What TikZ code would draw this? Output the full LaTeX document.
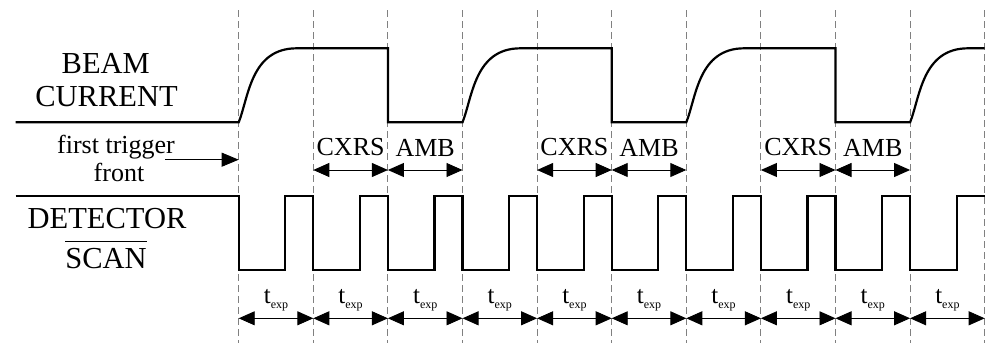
\documentclass[tikz,border=0pt]{standalone}
\usepackage{fontspec}
\setmainfont{Liberation Serif}
\usetikzlibrary{arrows.meta,calc}
\begin{document}
\begin{tikzpicture}[x=1pt,y=-1pt,
  wave/.style={line width=2.2pt, line join=miter},
  guide/.style={gray, line width=1pt, dash pattern=on 7pt off 4pt},
  dimline/.style={line width=0.9pt, {Triangle[length=16pt,width=14pt]}-{Triangle[length=16pt,width=14pt]}},
  oneway/.style={line width=0.9pt, -{Triangle[length=17pt,width=14pt]}},
  big/.style={font=\fontsize{30.5}{33}\selectfont, inner sep=0pt},
  small/.style={font=\fontsize{26}{28}\selectfont, inner sep=0pt},
  texp/.style={font=\fontsize{25}{27}\selectfont, inner sep=0pt, anchor=base},
]
\useasboundingbox (0,0) rectangle (990,343);
% vertical guides
\foreach \k in {0,...,10} {
  \coordinate (gt\k) at ({238.7+\k*74.6},10);
  \coordinate (gb\k) at ({238.7+\k*74.6},343);
  \draw[guide] (gt\k) -- (gb\k);
  \coordinate (c\k) at ({238.7+\k*74.6},170);
  \coordinate (t\k) at ({238.7+\k*74.6},318.3);
}
% beam current waveform
\draw[wave] (15.7,122.3) -- (238.7,122.3)
  .. controls (248.7,97.3) and (250.7,48.3) .. (296.7,48.3) -- (387.9,48.3) -- (387.9,122.3) -- (462.5,122.3)
  .. controls (472.5,97.3) and (474.5,48.3) .. (520.5,48.3) -- (611.7,48.3) -- (611.7,122.3) -- (686.3,122.3)
  .. controls (696.3,97.3) and (698.3,48.3) .. (744.3,48.3) -- (835.5,48.3) -- (835.5,122.3) -- (910.1,122.3)
  .. controls (920.1,97.3) and (922.1,48.3) .. (968.1,48.3) -- (984.7,48.3);
% detector scan waveform
\draw[wave] (15.7,196) foreach \k in {0,...,9} { -- ({238.7+\k*74.6},196) -- ++(0,74) -- ++(46.5,0) -- ++(0,-74) } -- (984.7,196);
% labels
\node[big] (beam) at (105.8,63.5) {BEAM};
\node[big] (current) at (106.5,97) {CURRENT};
\node[big] (detector) at (107,219) {DETECTOR};
\node[big] (scan) at (106,259) {SCAN};
\draw[line width=1.6pt] ([yshift=7pt]scan.north west) -- ([yshift=7pt]scan.north east);
\node[small, anchor=base] (first) at (116,153) {first trigger};
\node[small, anchor=base] (front) at (119,181.7) {front};
\coordinate (fa) at (165,159.7);
\coordinate (fb) at (238.7,159.7);
\draw[oneway] (fa) -- (fb);
% CXRS / AMB intervals
\foreach \a/\b/\c in {1/2/3, 4/5/6, 7/8/9} {
  \draw[dimline] (c\a) -- (c\b);
  \draw[dimline] (c\b) -- (c\c);
  \node[small] (cx\a) at ($ (c\a)!0.5!(c\b) + (0,-22.5) $) {CXRS};
  \node[small] (am\b) at ($ (c\b)!0.5!(c\c) + (0,-22.5) $) {AMB};
}
% t_exp intervals
\foreach \k [evaluate=\k as \n using int(\k+1)] in {0,...,9} {
  \draw[dimline] (t\k) -- (t\n);
  \node[texp] (te\k) at ($ (t\k)!0.5!(t\n) + (0,-15) $) {t{\fontsize{12}{12}\selectfont\raisebox{-5pt}{exp}}};
}
\end{tikzpicture}
\end{document}
